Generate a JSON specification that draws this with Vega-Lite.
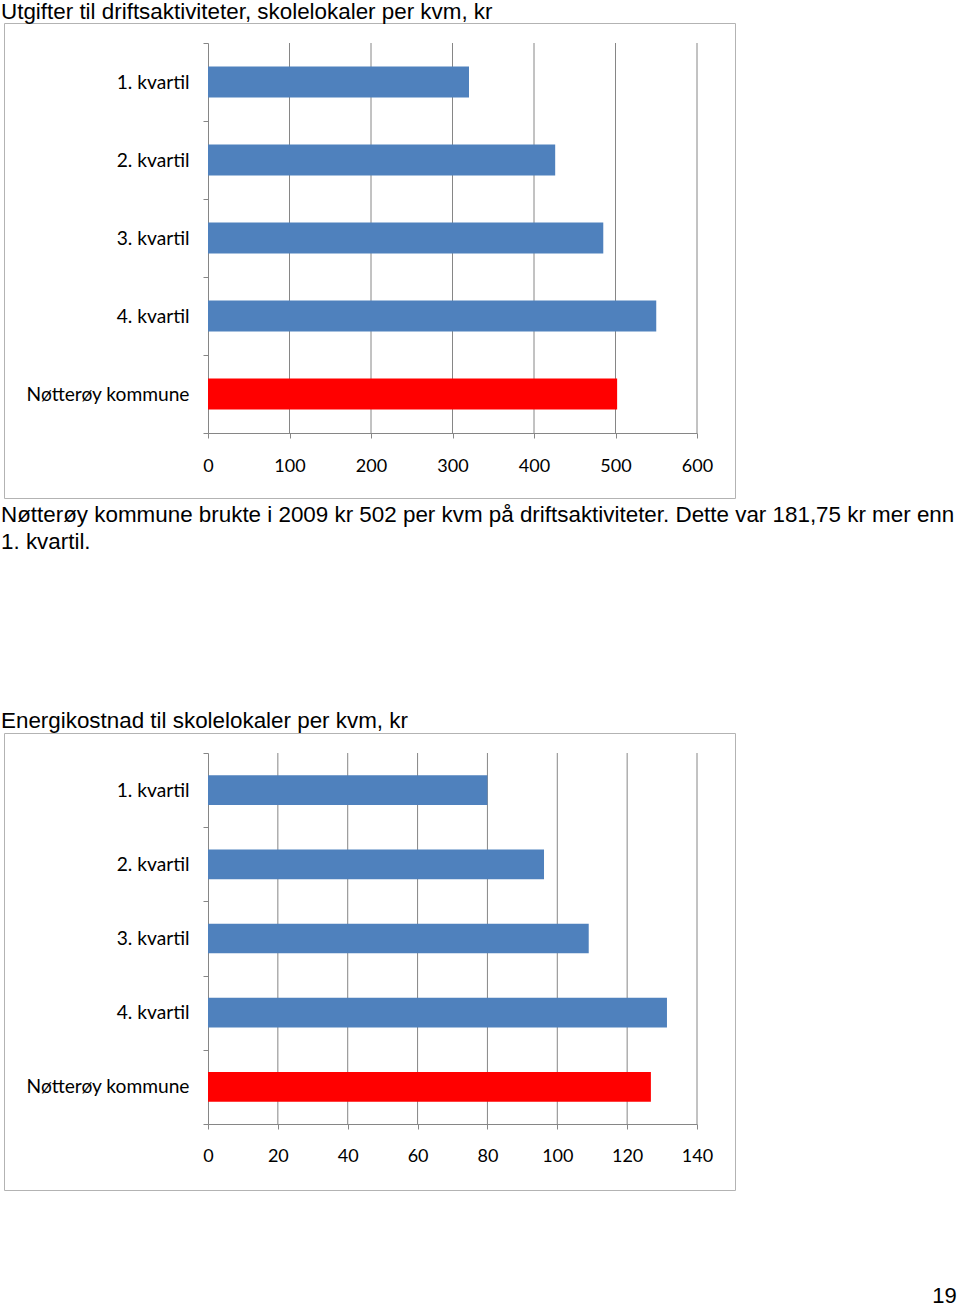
{
  "$schema": "https://vega.github.io/schema/vega-lite/v6.json",
  "padding": {"left": 0, "top": 0, "right": 0, "bottom": 0},
  "background": "white",
  "config": {
    "view": {"stroke": "#b3b3b3", "strokeWidth": 1},
    "font": "Liberation Sans",
    "title": {"font": "Liberation Sans", "fontSize": 22.4, "fontWeight": "normal", "color": "#000000", "anchor": "start", "subtitleFont": "Liberation Sans", "subtitleFontSize": 22.4, "subtitleColor": "#000000"},
    "axis": {"labelFont": "Lato", "labelFontSize": 18, "labelColor": "#000000", "domainColor": "#868686", "tickColor": "#868686", "gridColor": "#868686", "title": null, "labelOverlap": false}
  },
  "datasets": {
    "utgifter": [
      {"kategori": "1. kvartil", "verdi": 320.25},
      {"kategori": "2. kvartil", "verdi": 426},
      {"kategori": "3. kvartil", "verdi": 485},
      {"kategori": "4. kvartil", "verdi": 550},
      {"kategori": "Nøtterøy kommune", "verdi": 502}
    ],
    "energi": [
      {"kategori": "1. kvartil", "verdi": 80},
      {"kategori": "2. kvartil", "verdi": 96.2},
      {"kategori": "3. kvartil", "verdi": 109},
      {"kategori": "4. kvartil", "verdi": 131.4},
      {"kategori": "Nøtterøy kommune", "verdi": 126.8}
    ],
    "grid1": [{"t": 100}, {"t": 200}, {"t": 300}, {"t": 400}, {"t": 500}, {"t": 600}],
    "grid2": [{"t": 20}, {"t": 40}, {"t": 60}, {"t": 80}, {"t": 100}, {"t": 120}, {"t": 140}]
  },
  "spacing": 4,
  "title": {"text": "19", "orient": "bottom", "anchor": "end", "fontSize": 22, "offset": 95, "dx": 2},
  "vconcat": [
    {
      "width": 731,
      "height": 475,
      "title": {"text": "Utgifter til driftsaktiviteter, skolelokaler per kvm, kr", "dx": -3, "offset": -9},
      "layer": [
        {
          "data": {"name": "grid1"},
          "mark": {"type": "rule", "color": "#868686", "strokeWidth": 1},
          "encoding": {
            "x": {"field": "t", "type": "quantitative"},
            "y": {"datum": "1. kvartil", "type": "nominal", "bandPosition": 0},
            "y2": {"datum": "Nøtterøy kommune", "bandPosition": 1}
          }
        },
        {
          "data": {"name": "utgifter"},
          "mark": {"type": "bar", "height": {"band": 0.4}},
          "encoding": {
            "y": {"field": "kategori", "type": "nominal", "sort": null,
              "scale": {"domain": ["1. kvartil", "2. kvartil", "3. kvartil", "4. kvartil", "Nøtterøy kommune"], "range": [20, 410], "paddingInner": 0, "paddingOuter": 0},
              "axis": {"offset": -204, "tickBand": "extent", "tickSize": 5, "labelPadding": 14, "grid": false, "labelFontSize": 19.2}},
            "x": {"field": "verdi", "type": "quantitative",
              "scale": {"domain": [0, 600], "range": [204, 693], "nice": false},
              "axis": {"values": [0, 100, 200, 300, 400, 500, 600], "offset": -65, "tickSize": 5, "labelPadding": 19, "grid": false, "labelFlush": false}},
            "color": {"field": "kategori", "type": "nominal",
              "scale": {"domain": ["1. kvartil", "2. kvartil", "3. kvartil", "4. kvartil", "Nøtterøy kommune"], "range": ["#4f81bd", "#4f81bd", "#4f81bd", "#4f81bd", "#ff0000"]},
              "legend": null}
          }
        }
      ]
    },
    {
      "width": 731,
      "height": 457,
      "title": {"text": ["Nøtterøy kommune brukte i 2009 kr 502 per kvm på driftsaktiviteter. Dette var 181,75 kr mer enn", "1. kvartil."], "lineHeight": 27, "subtitle": "Energikostnad til skolelokaler per kvm, kr", "subtitlePadding": 156, "dx": -3, "offset": -8},
      "layer": [
        {
          "data": {"name": "grid2"},
          "mark": {"type": "rule", "color": "#868686", "strokeWidth": 1},
          "encoding": {
            "x": {"field": "t", "type": "quantitative"},
            "y": {"datum": "1. kvartil", "type": "nominal", "bandPosition": 0},
            "y2": {"datum": "Nøtterøy kommune", "bandPosition": 1}
          }
        },
        {
          "data": {"name": "energi"},
          "mark": {"type": "bar", "height": {"band": 0.4}},
          "encoding": {
            "y": {"field": "kategori", "type": "nominal", "sort": null,
              "scale": {"domain": ["1. kvartil", "2. kvartil", "3. kvartil", "4. kvartil", "Nøtterøy kommune"], "range": [20, 391], "paddingInner": 0, "paddingOuter": 0},
              "axis": {"offset": -204, "tickBand": "extent", "tickSize": 5, "labelPadding": 14, "grid": false, "labelFontSize": 19.2}},
            "x": {"field": "verdi", "type": "quantitative",
              "scale": {"domain": [0, 140], "range": [204, 693], "nice": false},
              "axis": {"values": [0, 20, 40, 60, 80, 100, 120, 140], "offset": -66, "tickSize": 5, "labelPadding": 18, "grid": false, "labelFlush": false}},
            "color": {"field": "kategori", "type": "nominal",
              "scale": {"domain": ["1. kvartil", "2. kvartil", "3. kvartil", "4. kvartil", "Nøtterøy kommune"], "range": ["#4f81bd", "#4f81bd", "#4f81bd", "#4f81bd", "#ff0000"]},
              "legend": null}
          }
        }
      ]
    }
  ]
}
